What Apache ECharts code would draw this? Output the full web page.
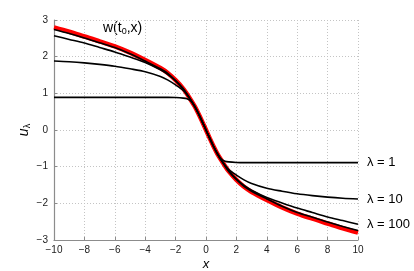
<!DOCTYPE html>
<html><head><meta charset="utf-8">
<script src="https://cdn.jsdelivr.net/npm/echarts@6/dist/echarts.min.js"></script>
<style>html,body{margin:0;padding:0;background:#fff}#c{width:414px;height:271px}</style>
</head><body><div id="c"></div>
<script>
var xs = [-10,-9,-8,-7,-6,-5,-4,-3,-2.5,-2,-1.5,-1.25,-1,-0.75,-0.5,-0.25,0,0.25,0.5,0.75,1,1.25,1.5,2,2.5,3,4,5,6,7,8,9,10];
var wVals    = [2.80,2.68,2.55,2.42,2.28,2.11,1.91,1.69,1.55,1.36,1.13,0.98,0.82,0.65,0.45,0.23,0,-0.23,-0.45,-0.65,-0.82,-0.98,-1.13,-1.36,-1.55,-1.69,-1.91,-2.11,-2.28,-2.42,-2.55,-2.68,-2.80];
var u1Vals   = [0.89,0.89,0.89,0.89,0.89,0.89,0.89,0.89,0.89,0.885,0.87,0.85,0.79,0.64,0.45,0.23,0,-0.23,-0.45,-0.64,-0.79,-0.85,-0.87,-0.885,-0.89,-0.89,-0.89,-0.89,-0.89,-0.89,-0.89,-0.89,-0.89];
var u10Vals  = [1.88,1.86,1.83,1.79,1.74,1.67,1.59,1.46,1.36,1.23,1.08,0.96,0.81,0.65,0.45,0.23,0,-0.23,-0.45,-0.65,-0.81,-0.96,-1.08,-1.23,-1.36,-1.46,-1.59,-1.67,-1.74,-1.79,-1.83,-1.86,-1.88];
var u100Vals = [2.57,2.47,2.37,2.25,2.13,1.99,1.84,1.64,1.51,1.34,1.12,0.97,0.82,0.65,0.45,0.23,0,-0.23,-0.45,-0.65,-0.82,-0.97,-1.12,-1.34,-1.51,-1.64,-1.84,-1.99,-2.13,-2.25,-2.37,-2.47,-2.57];
var u1000Vals= [2.74,2.63,2.51,2.38,2.25,2.08,1.88,1.67,1.54,1.35,1.13,0.98,0.82,0.65,0.45,0.23,0,-0.23,-0.45,-0.65,-0.82,-0.98,-1.13,-1.35,-1.54,-1.67,-1.88,-2.08,-2.25,-2.38,-2.51,-2.63,-2.74];
var labels = ['λ = 1','λ = 10','λ = 100',''];

function pairs(v){ return xs.map(function(x,i){ return [x, v[i]]; }); }
var FONT = 'Liberation Sans';
var chart = echarts.init(document.getElementById('c'));
function blk(v, lab){
  return {type:'line', data:pairs(v), smooth:0.3, showSymbol:false, z:3,
    lineStyle:{color:'#000', width:1.6},
    endLabel:{show:!!lab, formatter:lab, distance:9, color:'#000', fontFamily:FONT, fontSize:13},
    animation:false};
}
function axisCommon(margin){ return {
  axisLine:{show:true, onZero:false, lineStyle:{color:'#8c8c8c', width:1.2}},
  axisTick:{show:true, inside:true, length:3, lineStyle:{color:'#8c8c8c'}},
  axisLabel:{color:'#222', fontFamily:FONT, fontSize:10, margin:margin, formatter:function(v){return String(v).replace('-','\u2212');}},
  splitLine:{show:true, lineStyle:{color:'#c4c4c4', type:[1,2], width:1}}
};}
chart.setOption({
  animation:false,
  grid:{left:54, right:56, top:20, bottom:31, outerBoundsMode:'none', containLabel:false},
  xAxis:Object.assign({type:'value', min:-10, max:10, interval:2,
    name:'x', nameLocation:'middle', nameGap:18, nameMoveOverlap:false,
    nameTextStyle:{fontFamily:FONT, fontSize:13, fontStyle:'italic', color:'#000'}}, axisCommon(5)),
  yAxis:Object.assign({type:'value', min:-3, max:3, interval:1,
    name:'{u|u}{s|λ}', nameLocation:'middle', nameGap:22, nameRotate:90, nameMoveOverlap:false,
    nameTextStyle:{rich:{u:{fontFamily:FONT, fontSize:14, fontStyle:'italic', color:'#000'},
                         s:{fontFamily:FONT, fontSize:9, color:'#000', verticalAlign:'bottom', padding:[6,0,0,0]}}}}, axisCommon(6)),
  series:[
    {type:'line', data:pairs(wVals), smooth:0.3, showSymbol:false, z:2,
      lineStyle:{color:'#ff0000', width:4.5}, animation:false},
    blk(u1000Vals, labels[3]),
    blk(u100Vals, labels[2]),
    blk(u10Vals, labels[1]),
    blk(u1Vals, labels[0])
  ],
  graphic:[{type:'text', left:103, top:21, style:{
    text:'{a|w(t}{b|0}{a|,x)}', rich:{a:{fontFamily:FONT, fontSize:14, fill:'#000'},
      b:{fontFamily:FONT, fontSize:9, fill:'#000', padding:[7,0,0,0]}}}}]
});
</script></body></html>
